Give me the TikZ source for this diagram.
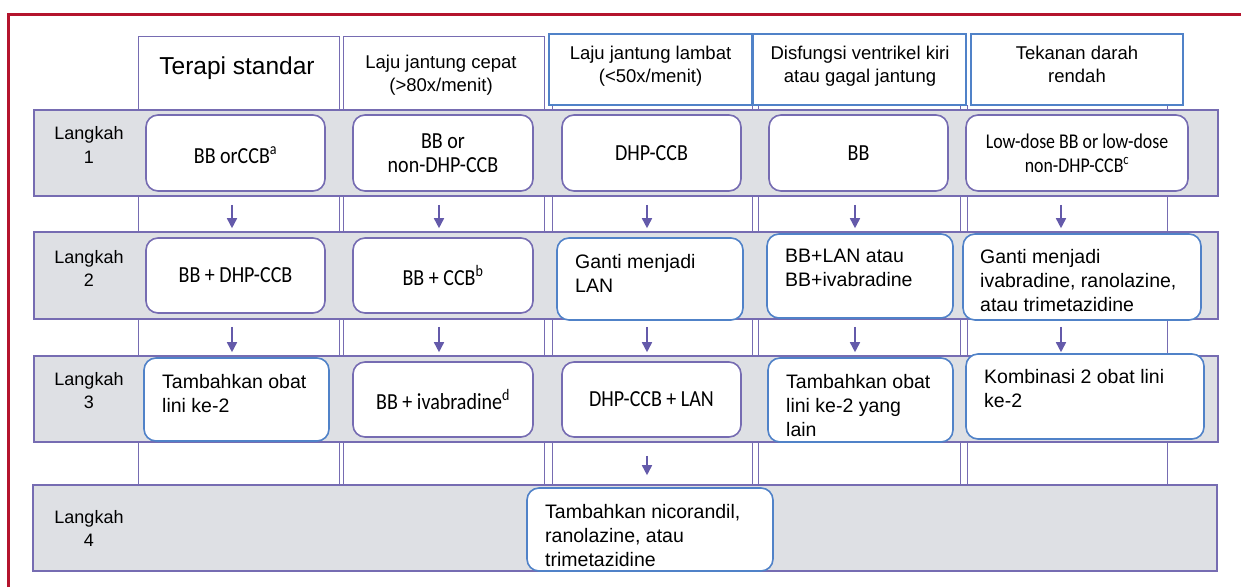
\documentclass[tikz,border=0pt]{standalone}
\usepackage{graphicx}
\usepackage{fontspec}
\setmainfont{Liberation Sans}
\newfontfamily\calfont{Carlito}
\usetikzlibrary{arrows.meta,fit,calc}
\definecolor{framered}{RGB}{180,20,45}
\definecolor{lav}{RGB}{118,108,178}
\definecolor{bandgray}{RGB}{222,224,228}
\definecolor{boxblue}{RGB}{80,130,200}
\definecolor{arrowc}{RGB}{100,90,170}
\newcommand\cs[1]{\scalebox{0.87}[1]{#1}}
\begin{document}
\begin{tikzpicture}[x=1pt,y=-1pt,
  band/.style={draw=lav, fill=bandgray, line width=1.3pt, inner sep=0pt},
  colline/.style={draw=lav, line width=1pt},
  hdrp/.style={draw=lav, line width=1pt, fill=white, inner sep=0pt},
  hdrb/.style={draw=boxblue, line width=1.5pt, fill=white, inner sep=0pt},
  pbox/.style={draw=lav, line width=1.6pt, fill=white, rounded corners=12pt, inner sep=0pt},
  bbox/.style={draw=boxblue, line width=1.6pt, fill=white, rounded corners=12pt, inner sep=0pt},
  ctext/.style={inner sep=0pt, align=center, font=\calfont\fontsize{23}{24}\selectfont},
  btext/.style={anchor=north west, inner sep=0pt, align=left, font=\fontsize{19.5}{24}\selectfont},
  htext/.style={inner sep=0pt, align=center, font=\fontsize{18.5}{23}\selectfont},
  steplabel/.style={inner sep=0pt, align=center, font=\fontsize{18}{23.5}\selectfont},
  arr/.style={draw=arrowc, line width=1.6pt, -{Triangle[length=10pt,width=10pt]}},
]
\useasboundingbox (0,0) rectangle (1241,587);
\fill[white] (0,0) rectangle (1241,587);
% red frame
\draw[framered, line width=3pt] (8,587) -- (8,14) -- (1241,14);

% column lines
\foreach \cx in {138,339,343,544,552,752,758,960,967,1167}
  \draw[colline] (\cx,105) -- (\cx,485);

% headers
\node[hdrp, fit={(138,36) (339,110)}] (h1) {};
\node[hdrp, fit={(343,36) (544,110)}] (h2) {};
\node[hdrb, fit={(549,34) (752,105)}] (h3) {};
\node[hdrb, fit={(753,34) (966,105)}] (h4) {};
\node[hdrb, fit={(971,34) (1183,105)}] (h5) {};
\node[htext, font=\fontsize{24.5}{28}\selectfont] (h1t) at (237,67.8) {Terapi standar};
\node[htext] (h2t) at (441,75.7) {Laju jantung cepat\\(>80x/menit)};
\node[htext] (h3t) at (650.5,66.7) {Laju jantung lambat\\(<50x/menit)};
\node[htext] (h4t) at (860,66.2) {Disfungsi ventrikel kiri\\atau gagal jantung};
\node[htext] (h5t) at (1077,64.8) {Tekanan darah\\rendah};

% bands
\node[band, fit={(34,110) (1218,196)}] (b1) {};
\node[band, fit={(34,232) (1218,319)}] (b2) {};
\node[band, fit={(34,356) (1218,442)}] (b3) {};
\node[band, fit={(33,485) (1217,571)}] (b4) {};

\node[steplabel] (l1) at (89,145) {Langkah\\1};
\node[steplabel] (l2) at (89,268.5) {Langkah\\2};
\node[steplabel] (l3) at (89,390.5) {Langkah\\3};
\node[steplabel] (l4) at (89,528.5) {Langkah\\4};

% step 1
\node[pbox, fit={(146,115) (325,191)}] (s1c1) {};
\node[pbox, fit={(353,115) (533,191)}] (s1c2) {};
\node[pbox, fit={(562,115) (741,191)}] (s1c3) {};
\node[pbox, fit={(769,115) (948,191)}] (s1c4) {};
\node[pbox, fit={(966,115) (1188,191)}] (s1c5) {};
\node[ctext] (s1c1t) at ([yshift=-2pt]s1c1.center) {\cs{BB orCCB\textsuperscript{a}}};
\node[ctext] (s1c2t) at (s1c2.center) {\cs{BB or}\\\cs{non-DHP-CCB}};
\node[ctext] (s1c3t) at (s1c3.center) {\cs{DHP-CCB}};
\node[ctext] (s1c4t) at (s1c4.center) {\cs{BB}};
\node[ctext, font=\calfont\fontsize{21}{24}\selectfont] (s1c5t) at (s1c5.center)
  {\scalebox{0.85}[1]{Low-dose BB or low-dose}\\\scalebox{0.85}[1]{non-DHP-CCB\textsuperscript{c}}};

% step 2
\node[pbox, fit={(146,238) (325,313)}] (s2c1) {};
\node[pbox, fit={(353,238) (533,313)}] (s2c2) {};
\node[ctext] (s2c1t) at (s2c1.center) {\cs{BB + DHP-CCB}};
\node[ctext] (s2c2t) at (s2c2.center) {\cs{BB + CCB\textsuperscript{b}}};
\node[bbox, fit={(557,238) (743,320)}] (s2c3) {};
\node[bbox, fit={(767,234) (953,318)}] (s2c4) {};
\node[bbox, fit={(963,234) (1201,320)}] (s2c5) {};
\node[btext] (s2c3t) at (575,254) {Ganti menjadi\\LAN};
\node[btext] (s2c4t) at (785,249) {BB+LAN atau\\BB+ivabradine};
\node[btext] (s2c5t) at (980,249) {Ganti menjadi\\ivabradine, ranolazine,\\atau trimetazidine};

% step 3
\node[bbox, fit={(144,358) (329,441)}] (s3c1) {};
\node[pbox, fit={(353,362) (533,437)}] (s3c2) {};
\node[pbox, fit={(562,362) (741,437)}] (s3c3) {};
\node[ctext] (s3c2t) at (s3c2.center) {\cs{BB + ivabradine\textsuperscript{d}}};
\node[ctext] (s3c3t) at (s3c3.center) {\cs{DHP-CCB + LAN}};
\node[bbox, fit={(768,358) (953,442)}] (s3c4) {};
\node[bbox, fit={(966,354) (1204,439)}] (s3c5) {};
\node[btext] (s3c1t) at (162,374) {Tambahkan obat\\lini ke-2};
\node[btext] (s3c4t) at (786,374) {Tambahkan obat\\lini ke-2 yang\\lain};
\node[btext] (s3c5t) at (984,369) {Kombinasi 2 obat lini\\ke-2};

% step 4
\node[bbox, fit={(527,488) (773,571)}] (s4c3) {};
\node[btext] (s4c3t) at (545,504) {Tambahkan nicorandil,\\ranolazine, atau\\trimetazidine};

% arrows
\coordinate (x1) at (232,0);
\coordinate (x2) at (439,0);
\coordinate (x3) at (647,0);
\coordinate (x4) at (855,0);
\coordinate (x5) at (1061,0);
\draw[arr, shorten <=13pt, shorten >=9pt] (x1 |- s1c1.south) -- (x1 |- s2c1.north);
\draw[arr, shorten <=13pt, shorten >=9pt] (x2 |- s1c2.south) -- (x2 |- s2c2.north);
\draw[arr, shorten <=13pt, shorten >=9pt] (x3 |- s1c3.south) -- (x3 |- s2c3.north);
\draw[arr, shorten <=13pt, shorten >=5pt] (x4 |- s1c4.south) -- (x4 |- s2c4.north);
\draw[arr, shorten <=13pt, shorten >=5pt] (x5 |- s1c5.south) -- (x5 |- s2c5.north);
\draw[arr, shorten <=13pt, shorten >=5pt] (x1 |- s2c1.south) -- (x1 |- s3c1.north);
\draw[arr, shorten <=13pt, shorten >=9pt] (x2 |- s2c2.south) -- (x2 |- s3c2.north);
\draw[arr, shorten <=6pt, shorten >=9pt] (x3 |- s2c3.south) -- (x3 |- s3c3.north);
\draw[arr, shorten <=8pt, shorten >=5pt] (x4 |- s2c4.south) -- (x4 |- s3c4.north);
\draw[arr, shorten <=6pt, shorten >=1pt] (x5 |- s2c5.south) -- (x5 |- s3c5.north);
\draw[arr, shorten <=18pt, shorten >=12pt] (x3 |- s3c3.south) -- (x3 |- s4c3.north);
\end{tikzpicture}
\end{document}
